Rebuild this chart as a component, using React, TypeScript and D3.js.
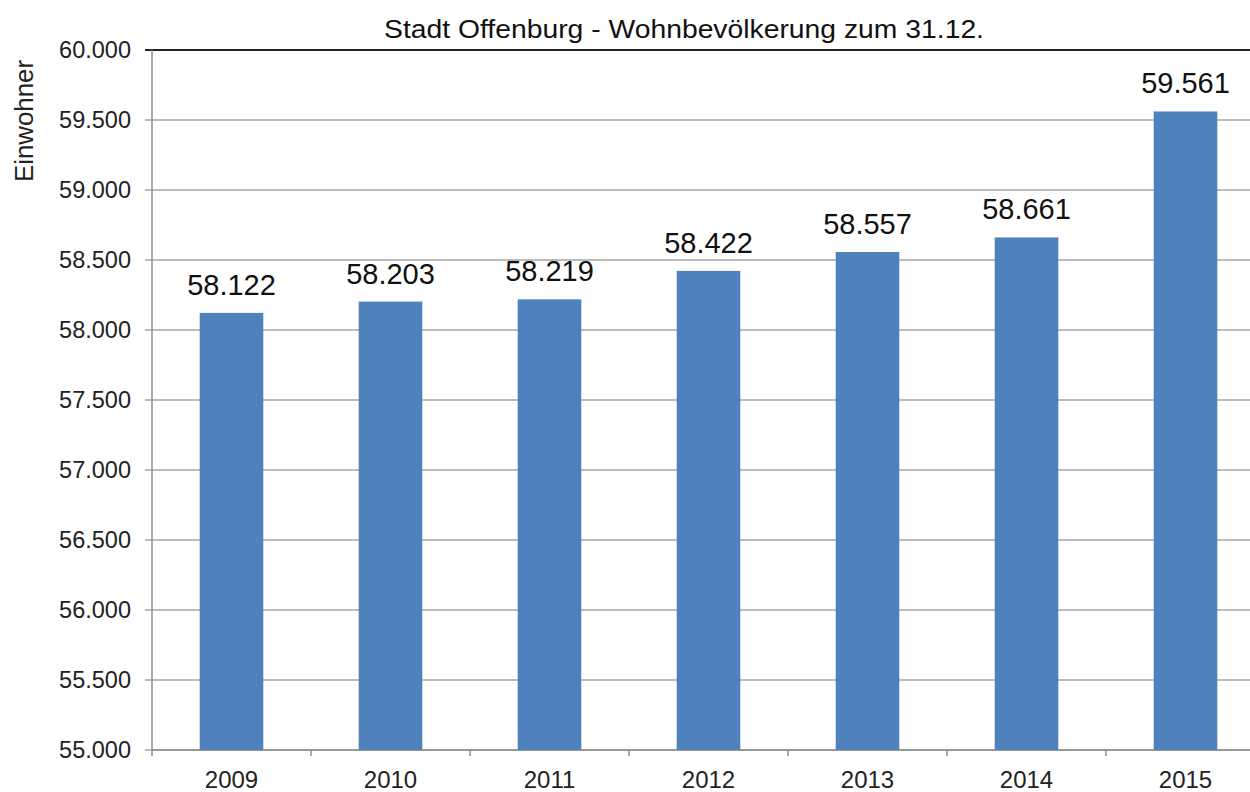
import React from "react";
import * as d3 from "d3";

const years = ["2009", "2010", "2011", "2012", "2013", "2014", "2015"];
const population = [58122, 58203, 58219, 58422, 58557, 58661, 59561];
const yTicks = [55000, 55500, 56000, 56500, 57000, 57500, 58000, 58500, 59000, 59500, 60000];
const title = "Stadt Offenburg - Wohnbevölkerung zum 31.12.";
const yLabel = "Einwohner";

const fmt = (v: number) => d3.format(",")(v).replace(/,/g, ".");

export default function App() {
  const W = 1250, H = 792;
  const left = 152, top = 50, bottom = 750, right = 152 + 7 * 159;
  const x = d3.scaleBand().domain(years).range([left, right]).paddingInner(0.6).paddingOuter(0.3);
  const y = d3.scaleLinear().domain([55000, 60000]).range([bottom, top]);
  const font = "'Liberation Sans', Arial, sans-serif";
  const step = 159;
  return (
    <svg width={W} height={H} style={{ position: "absolute", left: 0, top: 0, background: "#fff" }} fontFamily={font}>
      <rect width={W} height={H} fill="#fff" />
      {yTicks.map((t) => (
        <g key={t}>
          <line x1={left - 7} x2={W} y1={y(t)} y2={y(t)} stroke={t === 60000 ? "#222" : "#a6a6a6"} strokeWidth={t === 60000 ? 2 : 1.5} />
          <text x={left - 21} y={y(t)} dy="0.36em" textAnchor="end" fontSize={23.5} fill="#222">{fmt(t)}</text>
        </g>
      ))}
      <line x1={left} x2={left} y1={top} y2={bottom} stroke="#8c8c8c" strokeWidth={1.5} />
      <line x1={left} x2={W} y1={bottom} y2={bottom} stroke="#8c8c8c" strokeWidth={1.5} />
      {d3.range(8).map((i) => (
        <line key={i} x1={left + i * step} x2={left + i * step} y1={bottom} y2={bottom + 6} stroke="#8c8c8c" strokeWidth={1.5} />
      ))}
      {years.map((yr, i) => (
        <g key={yr}>
          <rect x={x(yr)!} y={y(population[i])} width={x.bandwidth()} height={bottom - y(population[i])} fill="#4f81bd" />
          <text x={x(yr)! + x.bandwidth() / 2} y={y(population[i]) - 18} textAnchor="middle" fontSize={29} fill="#111">{fmt(population[i])}</text>
          <text x={x(yr)! + x.bandwidth() / 2} y={788} textAnchor="middle" fontSize={24} fill="#222">{yr}</text>
        </g>
      ))}
      <text x={684} y={38} textAnchor="middle" fontSize={25} textLength={600} lengthAdjust="spacingAndGlyphs" fill="#111">{title}</text>
      <text transform={`translate(33,121) rotate(-90)`} textAnchor="middle" fontSize={26} textLength={122} lengthAdjust="spacingAndGlyphs" fill="#222">{yLabel}</text>
    </svg>
  );
}
